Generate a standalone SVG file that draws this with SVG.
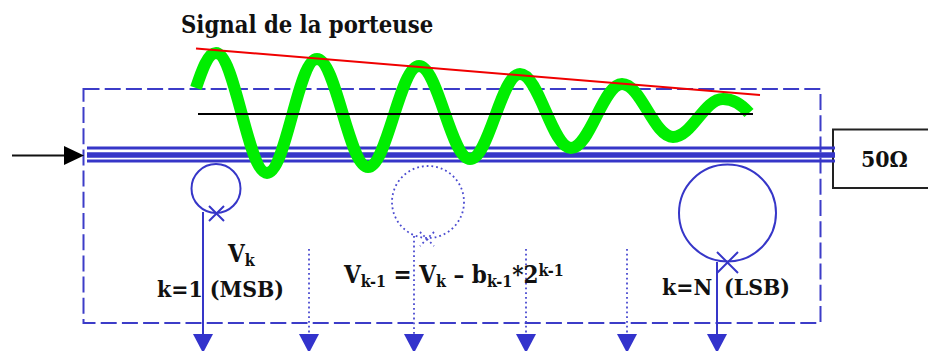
<svg xmlns="http://www.w3.org/2000/svg" width="928" height="351" viewBox="0 0 928 351">
<style>
text{font-family:"DejaVu Serif Condensed","DejaVu Serif","Liberation Serif",serif;font-weight:700;fill:#111}
.t{font-size:23.600px}
.m{font-size:22.800px}
.f{font-size:24px}
.s{font-size:16px}
.b{fill:none;stroke:#3636c8;stroke-width:2}
.d{fill:none;stroke:#4a4ad0;stroke-width:1.800;stroke-dasharray:1.800 3}
.h{fill:#3333cc}
</style>
<g id="frame"><rect x="83.500" y="89" width="737" height="234" fill="none" stroke="#3c3cc8" stroke-width="2" stroke-dasharray="16 5.200"/></g>
<g id="load"><rect x="833" y="129.500" width="100" height="58.500" fill="#fff" stroke="#222" stroke-width="2"/><text class="m" x="861" y="167">50Ω</text></g>
<g id="line">
<path d="M87 148H835M87 161H835" stroke="#3636c8" stroke-width="3" fill="none"/>
<path d="M87 155H835" stroke="#3636c8" stroke-width="5.500" fill="none"/>
</g>
<g id="coupler-msb"><circle class="b" cx="216" cy="188.500" r="24.500"/><path class="b" d="M209 206L224 221M224 206L209 221"/></g>
<g id="coupler-mid"><circle class="d" cx="428" cy="202" r="36"/><path class="d" d="M420 232L434 246M434 232L420 246"/></g>
<g id="coupler-lsb"><circle class="b" cx="727.500" cy="213" r="48.500"/><path class="b" d="M717 252L738 273M738 252L717 273"/></g>
<g id="connectors">
<path d="M12 155.500H66" stroke="#111" stroke-width="2" fill="none"/>
<polygon points="64,146 84,155.500 64,165" fill="#000"/>
<path class="b" d="M203 212V336"/>
<path class="d" d="M309 249V334"/>
<path class="d" d="M414 236V334"/>
<path class="d" d="M526 249V334"/>
<path class="d" d="M627 249V334"/>
<path class="b" d="M717 262V336"/>
<polygon class="h" points="193,334 213,334 203,353"/>
<polygon class="h" points="299,334 319,334 309,353"/>
<polygon class="h" points="404,334 424,334 414,353"/>
<polygon class="h" points="516,334 536,334 526,353"/>
<polygon class="h" points="617,334 637,334 627,353"/>
<polygon class="h" points="707,334 727,334 717,353"/>
</g>
<g id="signal">
<path d="M196 88C202 70 208 53 216 53C235 53 248 173 267 173C286 173 298 59 317 59C336 59 349 167 368 167C387 167 400 66 419 66C438 66 451 159 470 159C489 159 501 74 520 74C539 74 552 148 571 148C590 148 603 84 622 84C641 84 654 137 673 137C692 137 704 99 723 99C735 99 743 106 749 113" fill="none" stroke="#00ee00" stroke-width="12"/>
<path d="M198 114H753" stroke="#000" stroke-width="2" fill="none"/>
<path d="M196 48.500L760 95" stroke="#f00000" stroke-width="2" fill="none"/>
</g>
<g id="labels">
<text class="t" x="181" y="33">Signal de la porteuse</text>
<text class="f" x="228" y="262">V<tspan class="s" dy="4">k</tspan></text>
<text class="m" x="157" y="297">k=1 (MSB)</text>
<text class="f" x="344" y="283">V<tspan class="s" dy="4">k-1</tspan><tspan dy="-4"> = V</tspan><tspan class="s" dy="4">k</tspan><tspan dy="-4"> – b</tspan><tspan class="s" dy="4">k-1</tspan><tspan dy="-4">*2</tspan><tspan class="s" dy="-7">k-1</tspan></text>
<text class="m" x="662" y="295">k=N<tspan x="724">(LSB)</tspan></text>
</g>
</svg>
